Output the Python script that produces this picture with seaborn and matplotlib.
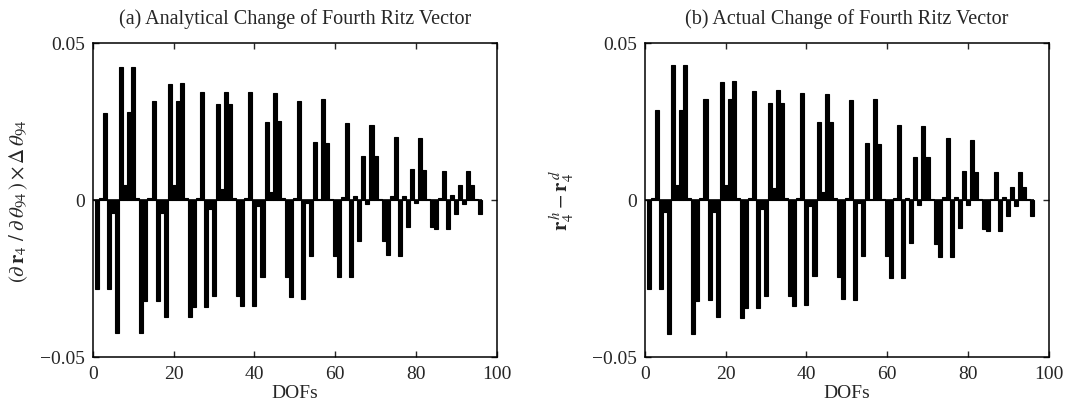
import numpy as np
import pandas as pd
import seaborn as sns
import matplotlib
matplotlib.use('Agg')
import matplotlib.pyplot as plt

sns.set_style('ticks')
plt.rcParams['font.family'] = ['Liberation Serif', 'DejaVu Serif']
plt.rcParams['mathtext.fontset'] = 'stix'

# degrees of freedom 1..96
dofs = list(range(1, 97))

# (a) analytical change of the fourth Ritz vector
analytical = [
    -0.0283, 0.0005, 0.0277, -0.0283, -0.0041, -0.0425, 0.0423, 0.0046,
    0.0280, 0.0423, 0.0005, -0.0425, -0.0321, 0.0005, 0.0316, -0.0321,
    -0.0041, -0.0372, 0.0370, 0.0046, 0.0316, 0.0372, 0.0005, -0.0372,
    -0.0341, 0.0005, 0.0343, -0.0342, -0.0030, -0.0305, 0.0304, 0.0035,
    0.0345, 0.0304, 0.0005, -0.0305, -0.0337, 0.0005, 0.0343, -0.0337,
    -0.0020, -0.0246, 0.0247, 0.0024, 0.0340, 0.0250, 0.0005, -0.0246,
    -0.0310, 0.0005, 0.0316, -0.0315, -0.0010, -0.0180, 0.0184, 0.0003,
    0.0320, 0.0180, 0.0003, -0.0180, -0.0246, 0.0010, 0.0244, -0.0246,
    0.0014, -0.0132, 0.0141, -0.0013, 0.0239, 0.0141, 0.0003, -0.0132,
    -0.0175, 0.0014, 0.0200, -0.0180, 0.0014, -0.0085, 0.0097, -0.0010,
    0.0196, 0.0096, 0.0003, -0.0087, -0.0092, 0.0006, 0.0093, -0.0092,
    0.0017, -0.0045, 0.0049, -0.0013, 0.0093, 0.0049, 0.0003, -0.0045,
]

# (b) actual change r4h - r4d
actual = [
    -0.0285, 0.0005, 0.0285, -0.0285, -0.0037, -0.0428, 0.0428, 0.0048,
    0.0285, 0.0428, 0.0005, -0.0426, -0.0322, 0.0005, 0.0322, -0.0320,
    -0.0037, -0.0373, 0.0375, 0.0048, 0.0320, 0.0377, 0.0005, -0.0375,
    -0.0343, 0.0005, 0.0347, -0.0343, -0.0030, -0.0306, 0.0309, 0.0039,
    0.0349, 0.0309, 0.0005, -0.0306, -0.0338, 0.0005, 0.0340, -0.0335,
    -0.0020, -0.0243, 0.0248, 0.0026, 0.0338, 0.0248, 0.0005, -0.0246,
    -0.0315, 0.0005, 0.0317, -0.0318, -0.0010, -0.0180, 0.0180, 0.0003,
    0.0320, 0.0179, 0.0003, -0.0180, -0.0250, 0.0007, 0.0240, -0.0250,
    0.0007, -0.0138, 0.0137, -0.0016, 0.0235, 0.0137, 0.0003, -0.0140,
    -0.0183, 0.0010, 0.0198, -0.0183, 0.0010, -0.0090, 0.0093, -0.0016,
    0.0192, 0.0090, 0.0003, -0.0092, -0.0098, 0.0003, 0.0088, -0.0098,
    0.0010, -0.0050, 0.0042, -0.0021, 0.0088, 0.0042, 0.0003, -0.0050,
]

titles = ['(a) Analytical Change of Fourth Ritz Vector',
          '(b) Actual Change of Fourth Ritz Vector']
ylabels = [r'$(\partial\,\mathbf{r}_4\ /\ \partial\,\theta_{94}\,)\times\Delta\,\theta_{94}$',
           r'$\mathbf{r}_4^{\,h}-\mathbf{r}_4^{\,d}$']
xticks = [0, 20, 40, 60, 80, 100]
yticks = [-0.05, 0, 0.05]
yticklabels = ['\u22120.05', '0', '0.05']

fig = plt.figure(figsize=(10.65, 4.1), dpi=100)
ax1 = fig.add_axes([0.0873, 0.127, 0.379, 0.766])
ax2 = fig.add_axes([0.6056, 0.127, 0.379, 0.766])

for ax, vals, title, ylab, lx in zip([ax1, ax2], [analytical, actual], titles,
                                     ylabels, [-0.155, -0.17]):
    df = pd.DataFrame({'dof': dofs, 'val': vals})
    sns.barplot(x='dof', y='val', data=df, native_scale=True, color='black',
                saturation=1, width=1.0, errorbar=None, ax=ax,
                edgecolor='black', linewidth=0.8)
    ax.hlines(0, 0, dofs[-1] + 0.5, color='black', linewidth=1.2)
    ax.set_xlim(0, 100)
    ax.set_ylim(-0.05, 0.05)
    ax.set_xticks(xticks)
    ax.set_xticklabels([str(t) for t in xticks])
    ax.set_yticks(yticks)
    ax.set_yticklabels(yticklabels)
    ax.tick_params(direction='in', top=True, right=True, length=4,
                   width=1, labelsize=14, pad=6)
    for s in ax.spines.values():
        s.set_visible(True)
        s.set_linewidth(1.1)
        s.set_color('black')
    ax.set_title(title, fontsize=14.5, pad=14)
    ax.set_xlabel('DOFs', fontsize=14, labelpad=1)
    ax.set_ylabel(ylab, fontsize=15)
    ax.yaxis.set_label_coords(lx, 0.5)

fig.savefig('out.png', dpi=100)
